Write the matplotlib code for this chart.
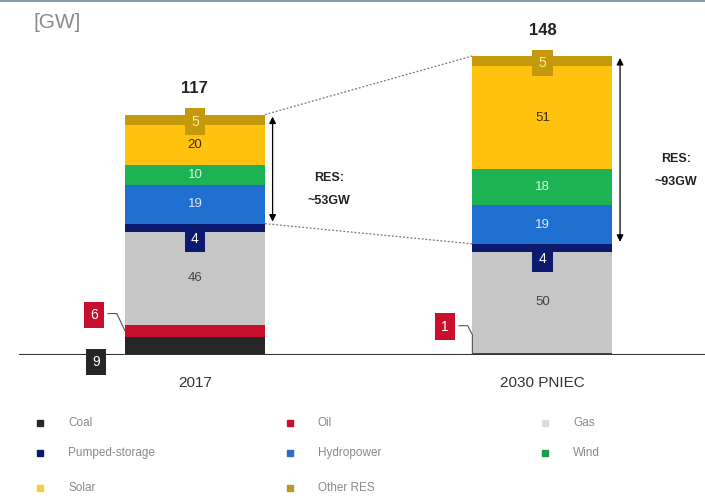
import matplotlib.pyplot as plt
import numpy as np
from matplotlib.lines import Line2D

plt.rcParams['font.family'] = ['Liberation Sans', 'DejaVu Sans']

# Installed capacity by source [GW]
years = ['2017', '2030 PNIEC']
totals = [117, 148]
res_totals = [53, 93]
sources = ['Coal', 'Oil', 'Gas', 'Pumped-storage', 'Hydropower', 'Wind', 'Solar', 'Other RES']
coal = [9, 0]
oil = [6, 1]
gas = [46, 50]
pumped = [4, 4]
hydro = [19, 19]
wind = [10, 18]
solar = [20, 51]
other_res = [5, 5]
colors = ['#262626', '#c8102e', '#c6c6c6', '#0b1a6e', '#1f6fd0', '#1db254', '#ffc20e', '#c49a0c']

series = [coal, oil, gas, pumped, hydro, wind, solar, other_res]

fig = plt.figure(figsize=(7.05, 4.99), dpi=100)
ax = fig.add_axes([0, 0.2886, 1, 0.7114])
ax.set_xlim(-0.561, 1.468)
ax.set_ylim(0, 175.7)
ax.axis('off')

x = np.arange(len(years))
w = 0.403
bottom = np.zeros(len(years))
bottoms = []
for vals, c in zip(series, colors):
    ax.bar(x, vals, w, bottom=bottom, color=c, linewidth=0, zorder=2)
    bottoms.append(bottom.copy())
    bottom += np.array(vals)
tops = bottom

# baseline
ax.axhline(0, xmin=20 / 705, xmax=1, color='#333333', lw=1.5, zorder=3)

# plain labels inside the bars
plain = {2: '#444444', 4: '#dce9ff', 5: '#dcf5e4', 6: '#3a3000'}
for si, tc in plain.items():
    for i in range(len(years)):
        v = series[si][i]
        ax.text(x[i], bottoms[si][i] + v / 2, str(v), ha='center', va='center',
                fontsize=9.5, color=tc, zorder=5)

box = dict(boxstyle='square,pad=0.45', ec='none')

# boxed labels: pumped storage and other RES
for i in range(len(years)):
    ax.text(x[i], bottoms[3][i] - 3.5, str(pumped[i]), ha='center', va='center',
            fontsize=10, color='white', zorder=6, bbox=dict(box, fc=colors[3]))
    ax.text(x[i], bottoms[7][i] + 1.5, str(other_res[i]), ha='center', va='center',
            fontsize=10, color='#ffe9a8', zorder=6, bbox=dict(box, fc=colors[7]))

# totals
for i in range(len(years)):
    ax.text(x[i], tops[i] + 9, str(totals[i]), ha='center', va='bottom',
            fontsize=12, fontweight='bold', color='#222222')

# small values pulled out to the left
ax.text(x[0] - 0.285, -3.5, str(coal[0]), ha='center', va='center', fontsize=10,
        color='white', zorder=6, bbox=dict(box, fc=colors[0]))
ax.plot([x[0] - 0.245, x[0] - 0.21, x[0] - w / 2], [-2.5, -0.5, 0.3],
        color='#555555', lw=0.8, zorder=4)
ax.text(x[0] - 0.29, 19.8, str(oil[0]), ha='center', va='center', fontsize=10,
        color='white', zorder=6, bbox=dict(box, fc=colors[1]))
ax.plot([x[0] - 0.25, x[0] - 0.225, x[0] - 0.215, x[0] - w / 2],
        [20.5, 20.5, 17, coal[0] + oil[0] / 2], color='#555555', lw=0.8, zorder=4)
ax.text(x[1] - 0.28, 14, str(oil[1]), ha='center', va='center', fontsize=10,
        color='white', zorder=6, bbox=dict(box, fc=colors[1]))
ax.plot([x[1] - 0.24, x[1] - 0.215, x[1] - w / 2, x[1] - w / 2],
        [14.5, 14.5, 10, 0.5], color='#555555', lw=0.8, zorder=4)

# RES span arrows and labels
res_bottom = [bottoms[4][i] for i in range(len(years))]
for i in range(len(years)):
    xa = x[i] + w / 2 + 0.022
    ax.annotate('', xy=(xa, tops[i] - 1), xytext=(xa, res_bottom[i] + 1),
                arrowprops=dict(arrowstyle='<|-|>', color='black', lw=0.9,
                                mutation_scale=10, shrinkA=0, shrinkB=0))
    ax.text(x[i] + 0.385, (tops[i] + res_bottom[i]) / 2 - 10,
            f'RES:\n~{res_totals[i]}GW', ha='center', va='center',
            fontsize=9, fontweight='bold', color='#222222', linespacing=2.2)

# dotted connectors between the two bars
for y0, y1 in [(tops[0], tops[1]), (res_bottom[0], res_bottom[1])]:
    ax.plot([x[0] + w / 2, x[1] - w / 2], [y0, y1], ls=(0, (1.5, 1.5)),
            color='#777777', lw=0.9, zorder=1)

# category labels
for i, yr in enumerate(years):
    ax.text(x[i], -14, yr, ha='center', va='center', fontsize=11, color='#333333')

# unit and top rule
fig.text(0.048, 0.955, '[GW]', fontsize=15, color='#8a8a8a', va='center')
fig.add_artist(Line2D([0, 1], [0.997, 0.997], color='#8c9aa8', lw=1.5))

# legend
col_x = [0.057, 0.411, 0.773]
row_y = [0.152, 0.092, 0.022]
legend_colors = ['#262626', '#c8102e', '#dcdcdc', '#0b1a6e', '#2f6dc0', '#1f9a4e', '#f2d23a', '#b89a2a']
for k, (name, c) in enumerate(zip(sources, legend_colors)):
    r, cidx = divmod(k, 3)
    fig.add_artist(Line2D([col_x[cidx]], [row_y[r]], marker='s', markersize=4.5,
                          color=c, lw=0))
    fig.text(col_x[cidx] + 0.04, row_y[r], name, fontsize=8.5, color='#8a8a8a',
             va='center')

fig.savefig('out.png', dpi=100)
